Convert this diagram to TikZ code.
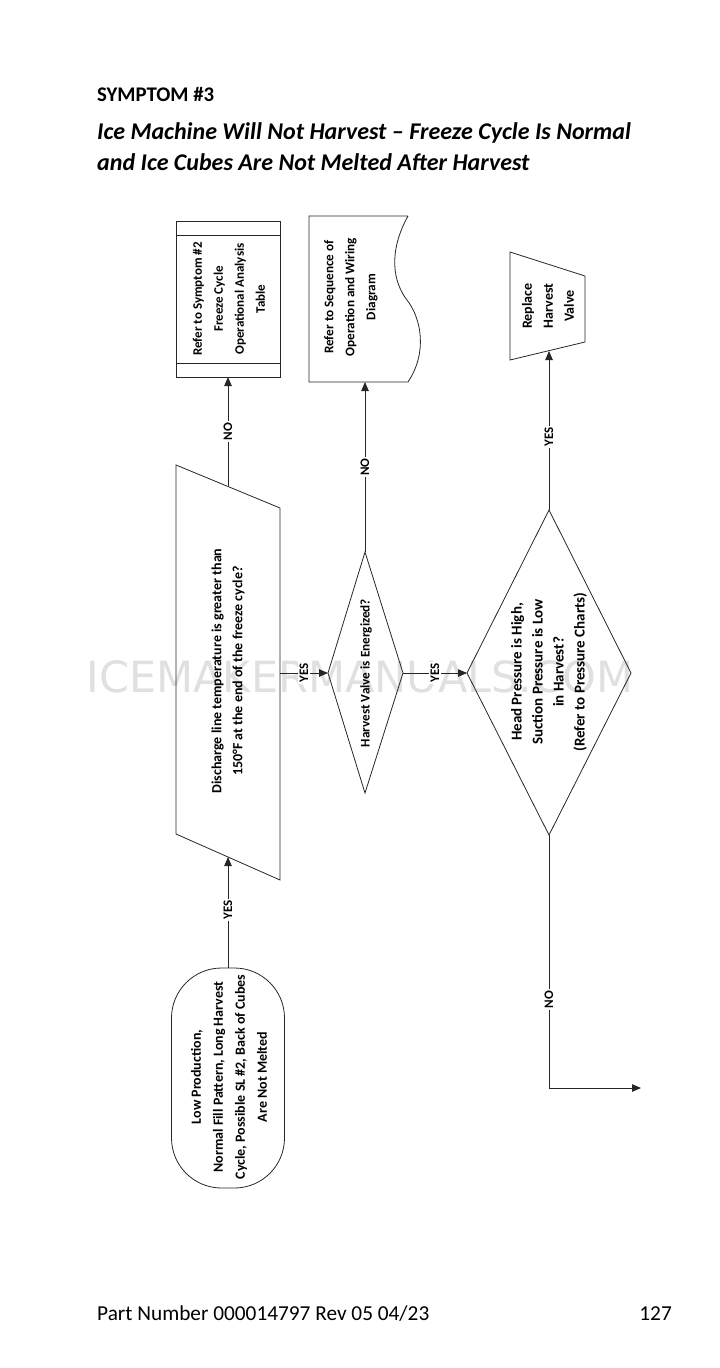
\documentclass[tikz,border=0pt]{standalone}
\usepackage{fontspec}
\setmainfont{Carlito}
\newfontfamily\markfont{DejaVu Sans}
\usetikzlibrary{arrows.meta}

\begin{document}
\begin{tikzpicture}[
    x=1pt, y=-1pt,
    line/.style={draw=black!85, line width=0.8pt},
    flow/.style={line, -{Triangle[length=9pt, width=7.5pt]}},
    txt/.style={rotate=90, align=center, inner sep=0pt, font=\fontsize{#1}{21}\selectfont\bfseries},
    txt/.default=13,
    tag/.style={rotate=90, fill=white, inner sep=1.5pt, font=\fontsize{13}{13}\selectfont\bfseries},
  ]
  \useasboundingbox (0,0) rectangle (720,1368);

  % heading and footer
  \node[anchor=base west, inner sep=0pt, font=\fontsize{20.8}{20}\selectfont\bfseries] (sym) at (97,101) {SYMPTOM \#3};
  \node[anchor=base west, inner sep=0pt, font=\fontsize{24}{24}\selectfont\bfseries\itshape] (ttla) at (97,139) {Ice Machine Will Not Harvest -- Freeze Cycle Is Normal};
  \node[anchor=base west, inner sep=0pt, font=\fontsize{24}{24}\selectfont\bfseries\itshape] (ttlb) at (97,170) {and Ice Cubes Are Not Melted After Harvest};
  \node[anchor=base west, inner sep=0pt, font=\fontsize{21.3}{21}\selectfont] (part) at (97,1320) {Part Number 000014797 Rev 05 04/23};
  \node[anchor=base east, inner sep=0pt, font=\fontsize{21.3}{21}\selectfont] (page) at (672,1320) {127};

  % watermark
  \node[text=black!12, inner sep=0pt, font=\markfont\fontsize{43}{43}\selectfont] (mark) at (360,677) {ICEMAKERMANUALS.COM};

  % start terminal
  \node[line, rotate=90, rounded corners=50pt, minimum width=220pt, minimum height=113pt] (start) at (228,1078) {};
  \node[txt, font=\fontsize{14}{22}\selectfont\bfseries] (starttxt) at (229,1077) {Low Production,\\Normal Fill Pattern, Long Harvest\\Cycle, Possible SL \#2, Back of Cubes\\Are Not Melted};

  % discharge temperature check
  \draw[line] (176,465) -- (280,508) -- (280,880) -- (176,834) -- cycle;
  \node[txt=14] (temp) at (228,671) {Discharge line temperature is greater than\\150°F at the end of the freeze cycle?};
  \coordinate (tempin) at (228,857);
  \coordinate (tempout) at (228,486);
  \coordinate (tempright) at (280,673);

  % refer to symptom 2
  \draw[line] (176,221) rectangle (280,377);
  \draw[line] (176,235) -- (280,235) (176,363) -- (280,363);
  \node[txt] (table) at (229,299) {Refer to Symptom \#2\\Freeze Cycle\\Operational Analysis\\Table};
  \coordinate (tablein) at (228,377);

  % harvest valve energized
  \draw[line] (365,552) -- (403,673) -- (365,793) -- (328,673) -- cycle;
  \node[txt=13.2] (valve) at (366,673) {Harvest Valve is Energized?};
  \coordinate (valvein) at (328,673);
  \coordinate (valvetop) at (365,552);
  \coordinate (valveright) at (403,673);

  % wiring document
  \draw[line] (408,216) -- (309,216) -- (309,382) -- (408,382)
    .. controls (428,352) and (421,318) .. (407,300)
    .. controls (393,282) and (388,252) .. (408,216);
  \node[txt=13.2] (wiring) at (351,297) {Refer to Sequence of\\Operation and Wiring\\Diagram};
  \coordinate (wiringin) at (365,382);

  % pressure check
  \draw[line] (549,510) -- (631,673) -- (549,835) -- (467,673) -- cycle;
  \node[txt=15] (press) at (549,672) {Head Pressure is High,\\Suction Pressure is Low\\in Harvest?\\(Refer to Pressure Charts)};
  \coordinate (pressin) at (467,673);
  \coordinate (presstop) at (549,510);
  \coordinate (pressbot) at (549,835);

  % replace valve
  \draw[line] (510,252) -- (585,276) -- (585,342) -- (510,360) -- cycle;
  \node[txt=14] (repl) at (548,306) {Replace\\Harvest\\Valve};
  \coordinate (replin) at (549,351);

  % loose end
  \coordinate (bend) at (549,1088);
  \coordinate (out) at (641,1088);

  % connectors
  \draw[flow] (start.east) -- node[tag, pos=0.52] {YES} (tempin);
  \draw[flow] (tempout) -- node[tag, pos=0.5] {NO} (tablein);
  \draw[flow] (tempright) -- node[tag, pos=0.5] {YES} (valvein);
  \draw[flow] (valvetop) -- node[tag, pos=0.5] {NO} (wiringin);
  \draw[flow] (valveright) -- node[tag, pos=0.5] {YES} (pressin);
  \draw[flow] (presstop) -- node[tag, pos=0.46] {YES} (replin);
  \draw[flow] (pressbot) -- node[tag, pos=0.65] {NO} (bend) -- (out);
\end{tikzpicture}
\end{document}
